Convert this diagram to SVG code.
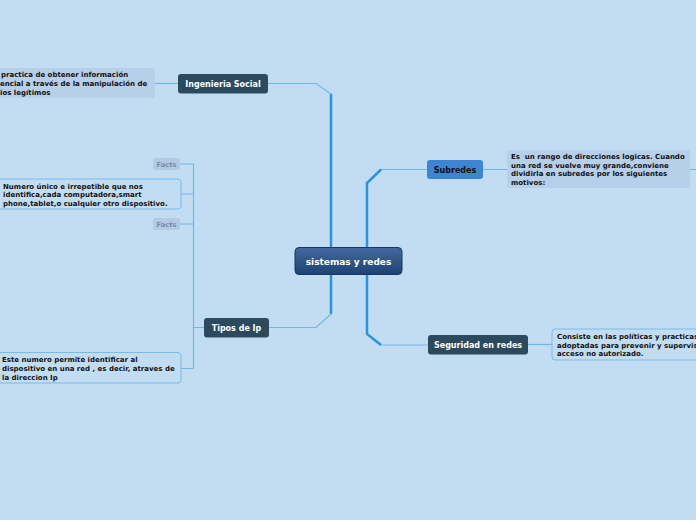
<svg xmlns="http://www.w3.org/2000/svg" width="696" height="520" viewBox="0 0 696 520">
<defs>
<linearGradient id="cg" x1="0" y1="0" x2="0" y2="1">
<stop offset="0" stop-color="#43699c"/>
<stop offset="1" stop-color="#1f4273"/>
</linearGradient>
</defs>
<style>
text{font-family:"DejaVu Sans",Verdana,sans-serif;font-weight:bold}
.trunk{fill:none;stroke:#2a92e4;stroke-width:2.5}
.thin{fill:none;stroke:#71b6ea;stroke-width:1.2}
.dark{fill:#2c4a5e}
.dt{fill:#ffffff;font-size:8px}
.note{fill:#b7cfe9}
.bnote{fill:#c2ddf1;stroke:#79bbec;stroke-width:1}
.nt{fill:#111111;font-size:7px}
.facts{fill:#b3c9e4}
.ft{fill:#7d8ba3;font-size:6.8px}
</style>
<rect width="696" height="520" fill="#c2ddf1"/>
<g id="connectors">
<path class="thin" d="M268,83.5 H316 L331,94"/>
<path class="trunk" d="M331,94 V314"/>
<path class="thin" d="M331,314 L316,327.5 H269"/>
<path class="thin" d="M381,169.5 H427"/>
<path class="trunk" d="M381,169.5 L367,183 V334 L381,345"/>
<path class="thin" d="M381,345 H428"/>
<path class="thin" d="M155,83.5 H178"/>
<path class="thin" d="M204,327.5 H193.5 M193.5,164 V368.5 M180,164 H193.5 M181,194 H193.5 M180,224 H193.5 M181,368.5 H193.5"/>
<path class="thin" d="M483,169.5 H507 M690,169.5 H696"/>
<path class="thin" d="M528,344.5 H552"/>
</g>
<g id="center">
<rect x="295" y="247.5" width="107" height="27" rx="4" fill="url(#cg)" stroke="#183760" stroke-width="1"/>
<text x="348.5" y="264.5" text-anchor="middle" fill="#ffffff" font-size="9px">sistemas y redes</text>
</g>
<g id="ingenieria">
<rect class="dark" x="178" y="74" width="90" height="19.5" rx="3"/>
<text class="dt" x="223" y="86.8" text-anchor="middle">Ingenieria Social</text>
</g>
<g id="note-ingenieria">
<rect class="note" x="-5" y="68" width="160" height="30" rx="3"/>
<text class="nt" x="1" y="77">practica de obtener información</text>
<text class="nt" x="0" y="86">encial a través de la manipulación de</text>
<text class="nt" x="0" y="95">ios legítimos</text>
</g>
<g id="tipos">
<rect class="dark" x="204" y="318" width="65" height="19.5" rx="3"/>
<text class="dt" x="236.5" y="330.8" text-anchor="middle">Tipos de Ip</text>
</g>
<g id="facts1">
<rect class="facts" x="153" y="158" width="27" height="12" rx="2"/>
<text class="ft" x="166.5" y="166.5" text-anchor="middle">Facts</text>
</g>
<g id="note-ip1">
<rect class="bnote" x="-5" y="179" width="186" height="30" rx="3"/>
<text class="nt" x="3" y="188.5">Numero único e irrepetible que nos</text>
<text class="nt" x="3" y="197">identifica,cada computadora,smart</text>
<text class="nt" x="3" y="205.5">phone,tablet,o cualquier otro dispositivo.</text>
</g>
<g id="facts2">
<rect class="facts" x="153" y="218" width="27" height="12" rx="2"/>
<text class="ft" x="166.5" y="226.5" text-anchor="middle">Facts</text>
</g>
<g id="note-ip2">
<rect class="bnote" x="-5" y="352.5" width="186" height="30.5" rx="3"/>
<text class="nt" x="2" y="362">Este numero permite identificar al</text>
<text class="nt" x="2" y="370.5">dispositivo en una red , es decir, atraves de</text>
<text class="nt" x="2" y="379.5">la direccion Ip</text>
</g>
<g id="subredes">
<rect x="427" y="160" width="56" height="19" rx="3" fill="#3e84d5"/>
<text x="455" y="172.5" text-anchor="middle" fill="#111111" font-size="8px">Subredes</text>
</g>
<g id="note-subredes">
<rect class="note" x="507" y="150" width="183" height="38" rx="3"/>
<text class="nt" x="511" y="159" style="white-space:pre">Es  un rango de direcciones logicas. Cuando</text>
<text class="nt" x="511" y="167.5">una red se vuelve muy grande,conviene</text>
<text class="nt" x="511" y="176">dividirla en subredes por los siguientes</text>
<text class="nt" x="511" y="184.5">motivos:</text>
</g>
<g id="seguridad">
<rect class="dark" x="428" y="335" width="100" height="19.5" rx="3"/>
<text class="dt" x="478" y="347.8" text-anchor="middle">Seguridad en redes</text>
</g>
<g id="note-seguridad">
<rect class="bnote" x="552" y="329" width="150" height="31" rx="3"/>
<text class="nt" x="557" y="339">Consiste en las políticas y practicas</text>
<text class="nt" x="557" y="347.5">adoptadas para prevenir y supervis</text>
<text class="nt" x="557" y="356">acceso no autorizado.</text>
</g>
</svg>
